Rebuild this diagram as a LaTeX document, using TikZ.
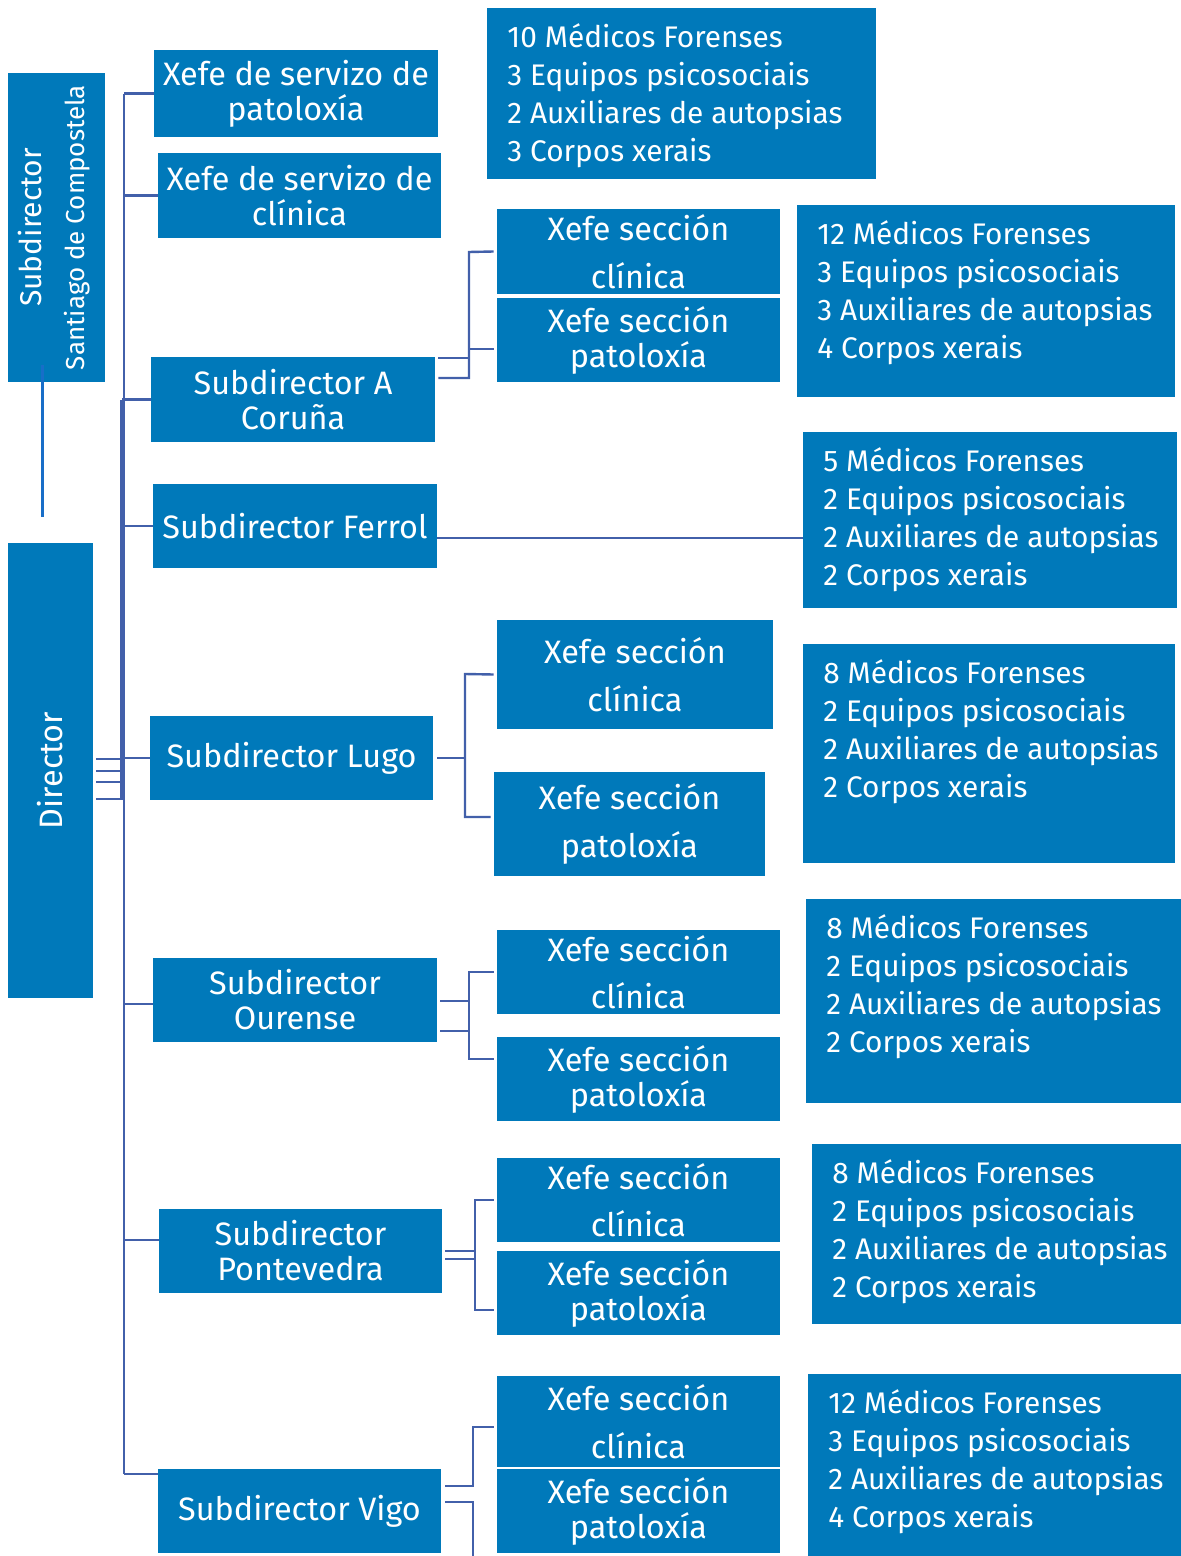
\documentclass[tikz,border=0pt]{standalone}
\usepackage{fontspec}
\setmainfont{Fira Sans}
\usepackage{tikz}
\usetikzlibrary{positioning, calc}

\definecolor{boxblue}{RGB}{0,121,186}
\definecolor{linecolor}{RGB}{66,96,170}
\definecolor{santline}{RGB}{24,110,200}

\tikzset{
  box/.style={rectangle, fill=boxblue, text=white, inner sep=0pt, align=center, font=\fontsize{16.2}{17.5}\selectfont},
  infobox/.style={rectangle, fill=boxblue, anchor=north west, inner sep=0pt},
  infotext/.style={text=white, anchor=north west, inner sep=0pt, align=left, font=\fontsize{14.9}{19}\selectfont},
  conn/.style={draw=linecolor, line width=1.2pt},
}

\begin{document}
\begin{tikzpicture}[x=0.5pt, y=-0.5pt]
        \useasboundingbox (0,0) rectangle (1181,1556);

        % Director and Santiago
        \node (santiago) [box, minimum width=48.5pt, minimum height=154.5pt] at (56.5,227.5)
                    {\rotatebox{90}{\begin{tabular}{@{}c@{}}\fontsize{15}{21.5}\selectfont Subdirector\\[4pt]\fontsize{13}{21.5}\selectfont Santiago de Compostela\end{tabular}}};
        \node (director) [box, minimum width=42.5pt, minimum height=227.5pt] at (50.5,770.5)
                    {\rotatebox{90}{Director}};

        % Servizos
        \node (xsp) [box, minimum width=142pt, minimum height=43.5pt] at (296,93.5) {Xefe de servizo de\\patoloxía};
        \node (xsc) [box, minimum width=141.5pt, minimum height=42.5pt] at (299.5,195.5) {Xefe de servizo de\\clínica};

        % Subdirectores
        \node (coruna) [box, minimum width=142pt, minimum height=42.5pt] at (293,399.5) {Subdirector A\\Coruña};
        \node (ferrol) [box, minimum width=142pt, minimum height=42pt] at (295,526) {Subdirector Ferrol};
        \node (lugo) [box, minimum width=141.5pt, minimum height=42pt] at (291.5,758) {Subdirector Lugo};
        \node (ourense) [box, minimum width=142pt, minimum height=42pt] at (295,1000) {Subdirector\\Ourense};
        \node (ponte) [box, minimum width=141.5pt, minimum height=42pt] at (300.5,1251) {Subdirector\\Pontevedra};
        \node (vigo) [box, minimum width=141.5pt, minimum height=42pt] at (299.5,1511) {Subdirector Vigo};

        % Xefes de seccion
        \node (cxsc) [box, minimum width=141.5pt, minimum height=42.5pt] at (638.5,251.5) {Xefe sección\\[6.5pt]clínica};
        \node (cxsp) [box, minimum width=141.5pt, minimum height=42pt] at (638.5,340) {Xefe sección\\patoloxía};
        \node (lxsc) [box, minimum width=138pt, minimum height=54.5pt] at (635,674.5) {Xefe sección\\[6.5pt]clínica};
        \node (lxsp) [box, minimum width=135.5pt, minimum height=52pt] at (629.5,824) {Xefe sección\\[6.5pt]patoloxía};
        \node (oxsc) [box, minimum width=141.5pt, minimum height=42pt] at (638.5,972) {Xefe sección\\[6pt]clínica};
        \node (oxsp) [box, minimum width=141.5pt, minimum height=42pt] at (638.5,1079) {Xefe sección\\patoloxía};
        \node (pxsc) [box, minimum width=141.5pt, minimum height=42pt] at (638.5,1200) {Xefe sección\\[6pt]clínica};
        \node (pxsp) [box, minimum width=141.5pt, minimum height=42pt] at (638.5,1293) {Xefe sección\\patoloxía};
        \node (vxsc) [box, minimum width=141.5pt, minimum height=45.5pt] at (638.5,1421.5) {Xefe sección\\[6.5pt]clínica};
        \node (vxsp) [box, minimum width=141.5pt, minimum height=42pt] at (638.5,1511) {Xefe sección\\patoloxía};

        % Persoal
        \node (i0) [infobox, minimum width=194.5pt, minimum height=85.5pt] at (487,8) {};
        \node (i0t) [infotext] at ([xshift=10pt,yshift=-7.5pt]i0.north west)
                    {10 Médicos Forenses\\3 Equipos psicosociais\\2 Auxiliares de autopsias\\3 Corpos xerais};
        \node (i1) [infobox, minimum width=189pt, minimum height=96pt] at (797,205) {};
        \node (i1t) [infotext] at ([xshift=10pt,yshift=-7.5pt]i1.north west)
                    {12 Médicos Forenses\\3 Equipos psicosociais\\3 Auxiliares de autopsias\\4 Corpos xerais};
        \node (i2) [infobox, minimum width=187pt, minimum height=88pt] at (803,432) {};
        \node (i2t) [infotext] at ([xshift=10pt,yshift=-7.5pt]i2.north west)
                    {5 Médicos Forenses\\2 Equipos psicosociais\\2 Auxiliares de autopsias\\2 Corpos xerais};
        \node (i3) [infobox, minimum width=186pt, minimum height=109.5pt] at (803,644) {};
        \node (i3t) [infotext] at ([xshift=10pt,yshift=-7.5pt]i3.north west)
                    {8 Médicos Forenses\\2 Equipos psicosociais\\2 Auxiliares de autopsias\\2 Corpos xerais};
        \node (i4) [infobox, minimum width=187.5pt, minimum height=102pt] at (806,899) {};
        \node (i4t) [infotext] at ([xshift=10pt,yshift=-7.5pt]i4.north west)
                    {8 Médicos Forenses\\2 Equipos psicosociais\\2 Auxiliares de autopsias\\2 Corpos xerais};
        \node (i5) [infobox, minimum width=184.5pt, minimum height=90pt] at (812,1144) {};
        \node (i5t) [infotext] at ([xshift=10pt,yshift=-7.5pt]i5.north west)
                    {8 Médicos Forenses\\2 Equipos psicosociais\\2 Auxiliares de autopsias\\2 Corpos xerais};
        \node (i6) [infobox, minimum width=186.5pt, minimum height=91pt] at (808,1374) {};
        \node (i6t) [infotext] at ([xshift=10pt,yshift=-7.5pt]i6.north west)
                    {12 Médicos Forenses\\3 Equipos psicosociais\\2 Auxiliares de autopsias\\4 Corpos xerais};

        % Lines
        \coordinate (ttop) at (124,94);
        \coordinate (tbot) at (124,1474);
        \coordinate (santend) at (42.5,517);
        \coordinate (vigoend) at (473,1560);

        \draw[draw=santline, line width=1.2pt] ([xshift=-7pt,yshift=8.5pt]santiago.south) -- (santend);

        \draw[conn] (ttop) -- (tbot);
        \draw[conn] (121.5,400) -- (121.5,800);
        \draw[conn] (xsp.west) -- (124,93.5);
        \draw[conn] (xsc.west) -- (124,195.5);
        \draw[conn] (coruna.west) -- (121.5,399.5);
        \draw[conn] (ferrol.west) -- (124,526);
        \draw[conn] (lugo.west) -- (124,758);
        \draw[conn] ([yshift=-2pt]ourense.west) -- (124,1004);
        \draw[conn] ([yshift=5.5pt]ponte.west) -- (124,1240);
        \draw[conn] ([yshift=18.5pt]vigo.west) -- (tbot);
        \draw[conn] ([xshift=1.5pt,yshift=5.75pt]director.east) -- (124,759);
        \draw[conn] ([xshift=1.5pt,yshift=-0.25pt]director.east) -- (124,771);
        \draw[conn] ([xshift=1.5pt,yshift=-5.75pt]director.east) -- (124,782);
        \draw[conn] ([xshift=1.5pt,yshift=-14.25pt]director.east) -- (124,799);

        \draw[conn] ([yshift=-6pt]ferrol.east) -- ([yshift=-6pt]ferrol.east -| i2.west);

        \draw[conn] ([xshift=-1.5pt]cxsc.west) -- (469,252) -- (469,378) -- ([xshift=1.5pt,yshift=10.75pt]coruna.east);
        \draw[conn] ([xshift=-1.5pt,yshift=-4.5pt]cxsp.west) -- (469,349);
        \draw[conn] ([xshift=1.5pt,yshift=20.75pt]coruna.east) -- (469,358);

        \draw[conn] ([xshift=-1.5pt]lxsc.west) -- (465,674) -- (465,817) -- ([xshift=-1.5pt,yshift=3.5pt]lxsp.west);
        \draw[conn] ([xshift=2pt]lugo.east) -- (465,758);

        \draw[conn] ([xshift=-1.5pt]oxsc.west) -- (469,972) -- (469,1059) -- ([xshift=-1.5pt,yshift=10pt]oxsp.west);
        \draw[conn] ([xshift=1.5pt,yshift=-0.5pt]ourense.east) -- (469,1001);
        \draw[conn] ([xshift=1.5pt,yshift=-15.5pt]ourense.east) -- (469,1031);

        \draw[conn] ([xshift=-1.5pt]pxsc.west) -- (475,1200) -- (475,1310) -- ([xshift=-1.5pt,yshift=-8.5pt]pxsp.west);
        \draw[conn] ([xshift=1.5pt]ponte.east) -- (475,1251);
        \draw[conn] ([xshift=1.5pt,yshift=-4pt]ponte.east) -- (475,1259);

        \draw[conn] ([xshift=2pt,yshift=12.5pt]vigo.east) -- (473,1486) -- (473,1427) -- ([xshift=-1.5pt,yshift=-2.75pt]vxsc.west);
        \draw[conn] ([xshift=2pt,yshift=4.5pt]vigo.east) -- (473,1502) -- (vigoend);

\end{tikzpicture}
\end{document}
